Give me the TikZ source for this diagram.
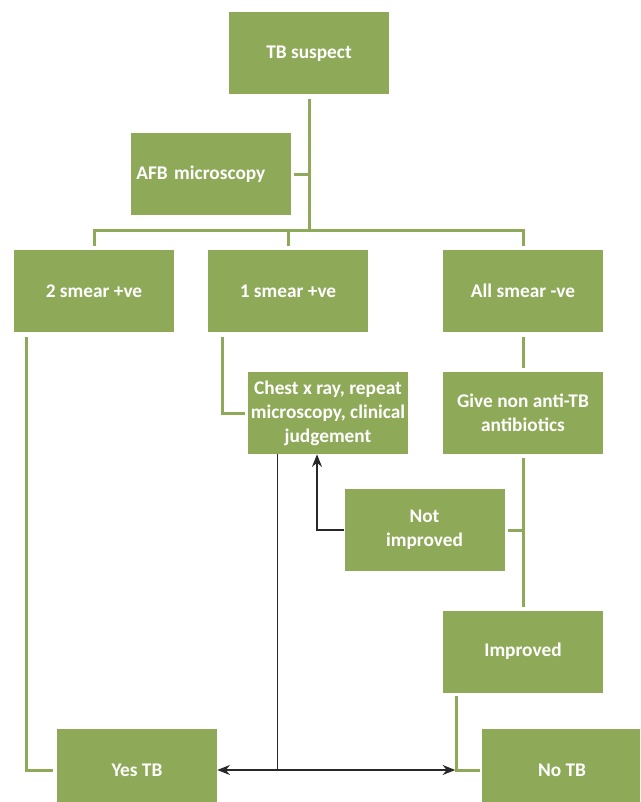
\documentclass[tikz,border=0pt]{standalone}
\usepackage{fontspec}
\setmainfont{Carlito}
\usepackage{xcolor}
\definecolor{tbgreen}{RGB}{142,169,88}
\definecolor{tbdark}{RGB}{40,40,40}
\usetikzlibrary{arrows.meta, positioning}

\begin{document}
\begin{tikzpicture}[x=0.75pt, y=-0.75pt,
    greenbox/.style={fill=tbgreen, draw=none, text=white,
        font=\fontsize{14.5}{18}\selectfont\bfseries, align=center,
        minimum width=120pt, minimum height=61.5pt, inner xsep=0.5pt},
    greenline/.style={draw=tbgreen, line width=2.25pt},
    darkline/.style={draw=tbdark, line width=1.1pt},
    darktip/.tip={Stealth[length=9.5pt, width=7.5pt]}]
  \useasboundingbox (0,0) rectangle (640,802);
  \clip (0,0) rectangle (640,802);

  % boxes
  \node[greenbox] (suspect) at (309,53.5) {TB suspect};
  \node[greenbox, text width=112pt, align=left, inner xsep=4pt] (afb) at (211,174.5)
        {AFB microscopy};
  \node[greenbox] (smtwo) at (94,291) {2 smear +ve};
  \node[greenbox] (smone) at (288,291) {1 smear +ve};
  \node[greenbox] (small) at (523,291) {All smear -ve};
  \node[greenbox] (chest) at (328,413)
        {Chest x ray, repeat\\microscopy, clinical\\judgement};
  \node[greenbox] (give) at (523,413) {Give non anti-TB\\antibiotics};
  \node[greenbox] (notimp) at (424.5,530) {Not\\improved};
  \node[greenbox] (improved) at (523,651.5) {Improved};
  \node[greenbox] (yestb) at (137,770) {Yes TB};
  \node[greenbox] (notb) at (562,770) {No TB};

  % green connectors
  \coordinate (bus) at (309,230);
  \draw[greenline] ([yshift=-3pt]suspect.south) -- (bus);
  \draw[greenline] ([xshift=2.25pt]afb.east) -- (afb.east -| bus);
  \draw[greenline] ([yshift=3pt]smtwo.north) |- (bus) -| ([yshift=3pt]small.north);
  \draw[greenline] ([yshift=3pt]smone.north) -- (smone.north |- bus);
  \draw[greenline] ([xshift=9.75pt, yshift=-3.75pt]smtwo.south west) |- ([xshift=-3pt]yestb.west);
  \draw[greenline] ([xshift=11.25pt, yshift=-3.75pt]smone.south west) |- ([xshift=-2.25pt]chest.west);
  \draw[greenline] ([yshift=-3.75pt]small.south) -- ([yshift=3pt]give.north);
  \draw[greenline] ([yshift=-3pt]give.south) -- ([yshift=2.25pt]improved.north);
  \draw[greenline] ([xshift=2.25pt]notimp.east) -- (notimp.east -| give.south);
  \draw[greenline] ([xshift=10.5pt, yshift=-2.25pt]improved.south west) |- ([xshift=-1.5pt]notb.west);

  % dark connectors
  \coordinate (split) at ([xshift=22.5pt]chest.south west |- yestb.east);
  \coordinate (tbjoin) at ([xshift=9.4pt]improved.south west |- yestb.east);
  \draw[darkline, -darktip] (notimp.west) -| ([xshift=-8.25pt]chest.south);
  \draw[darkline] ([xshift=22.5pt]chest.south west) -- (split);
  \draw[darkline, darktip-darktip] (yestb.east) -- (tbjoin);
\end{tikzpicture}
\end{document}
